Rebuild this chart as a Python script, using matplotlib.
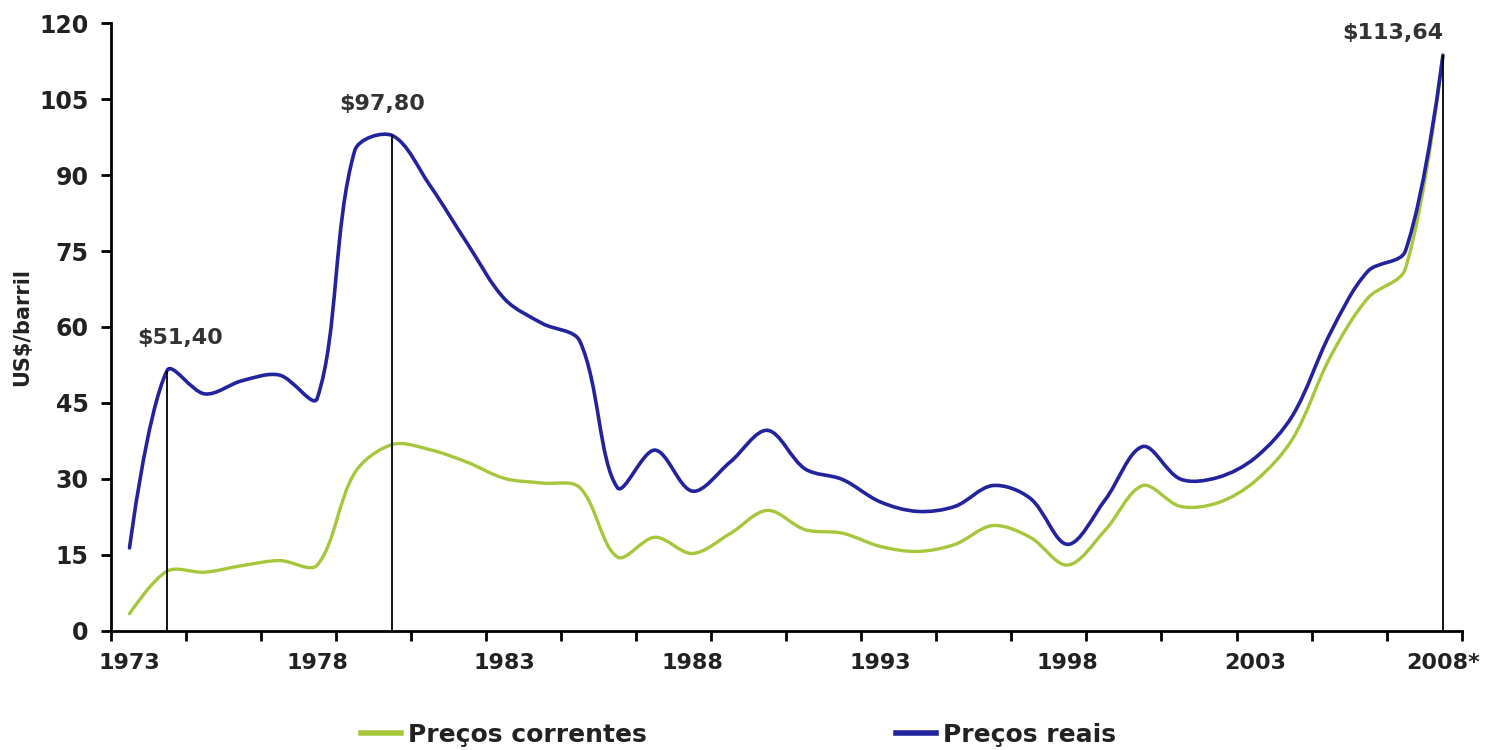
import numpy as np
import matplotlib
matplotlib.use("Agg")
import matplotlib.pyplot as plt
from matplotlib.path import Path
from matplotlib.patches import PathPatch
from matplotlib.lines import Line2D

# Annual oil prices, US$ per barrel
years = list(range(1973, 2009))
precos_reais = [16.4, 51.4, 46.8, 49.4, 50.5, 45.9, 94.8, 97.8, 88.0, 76.5,
                65.5, 60.7, 57.2, 28.3, 35.7, 27.6, 33.3, 39.6, 32.0, 29.9,
                25.5, 23.6, 24.6, 28.7, 26.2, 17.1, 25.9, 36.4, 30.0, 30.3,
                34.2, 42.6, 58.8, 71.0, 75.0, 113.64]
precos_correntes = [3.4, 11.8, 11.6, 12.9, 13.9, 13.0, 31.2, 36.8, 35.8, 33.3,
                    30.1, 29.2, 28.3, 14.6, 18.5, 15.3, 19.2, 23.8, 20.0, 19.3,
                    16.7, 15.7, 17.1, 20.8, 18.5, 13.0, 19.9, 28.7, 24.6, 25.3,
                    29.6, 38.0, 54.1, 65.7, 71.5, 113.64]

# Highlighted peaks: year and value
peak_years = [1974, 1980, 2008]
peak_values = [51.40, 97.80, 113.64]
peak_labels = ["$51,40", "$97,80", "$113,64"]

tick_years = [1973, 1978, 1983, 1988, 1993, 1998, 2003, 2008]
tick_labels = ["1973", "1978", "1983", "1988", "1993", "1998", "2003", "2008*"]

GREEN = "#a6c63c"
BLUE = "#23239e"
TEXT = "#222222"

# rough screen scale (px per year, px per US$) used to weight the smoothing
SX, SY = 37.5, 5.07


def smooth_path(x, y):
    """Bezier path through the points, tangents weighted by segment length."""
    pts = np.column_stack([x, y]).astype(float)
    scr = pts * [SX, SY]
    n = len(pts)
    before = pts.copy()
    after = pts.copy()
    for i in range(1, n - 1):
        d1 = np.hypot(*(scr[i] - scr[i - 1]))
        d2 = np.hypot(*(scr[i + 1] - scr[i]))
        tan = pts[i + 1] - pts[i - 1]
        before[i] = pts[i] - tan * d1 / (d1 + d2) / 3.0
        after[i] = pts[i] + tan * d2 / (d1 + d2) / 3.0
    verts = [pts[0]]
    codes = [Path.MOVETO]
    for i in range(n - 1):
        verts += [after[i], before[i + 1], pts[i + 1]]
        codes += [Path.CURVE4] * 3
    return Path(verts, codes)


fig = plt.figure(figsize=(14.95, 7.5), dpi=100)
ax = fig.add_axes([0.0741, 0.1587, 0.9036, 0.8106])

ax.add_patch(PathPatch(smooth_path(years, precos_correntes), fill=False,
                       edgecolor=GREEN, lw=2.4, capstyle="round", zorder=3))
ax.add_patch(PathPatch(smooth_path(years, precos_reais), fill=False,
                       edgecolor=BLUE, lw=2.6, capstyle="round", zorder=4))

# Drop lines and value labels for the peaks
ax.vlines(peak_years, 0, peak_values, color="black", lw=1.3, zorder=5)
label_pos = [(1974.35, 57.8), (1979.73, 104.1), (2006.67, 118.0)]
for (lx, ly), txt in zip(label_pos, peak_labels):
    ax.text(lx, ly, txt, ha="center", va="center", fontsize=16,
            fontweight="bold", color="#333333")

ax.set_xlim(1972.5, 2008.5)
ax.set_ylim(0, 120)

ax.set_yticks(np.arange(0, 121, 15))
ax.tick_params(axis="y", length=7, width=2, pad=9, labelsize=17,
               labelcolor=TEXT)
for lbl in ax.get_yticklabels():
    lbl.set_fontweight("bold")

# Year labels sit on categories, tick marks every two years
ax.set_xticks(tick_years)
ax.set_xticklabels(tick_labels, fontsize=16, fontweight="bold", color=TEXT)
ax.set_xticks(np.arange(1972.5, 2008.6, 2), minor=True)
ax.tick_params(axis="x", which="major", length=0, pad=16)
ax.tick_params(axis="x", which="minor", length=7, width=2)

for side in ["top", "right"]:
    ax.spines[side].set_visible(False)
for side in ["left", "bottom"]:
    ax.spines[side].set_linewidth(2)

ax.set_ylabel("US$/barril", fontsize=15, fontweight="bold", color=TEXT)
ax.yaxis.set_label_coords(-0.058, 0.5)

handles = [Line2D([], [], color=GREEN, lw=4),
           Line2D([], [], color=BLUE, lw=4)]
fig.legend(handles, ["Preços correntes", "Preços reais"], loc="center",
           bbox_to_anchor=(0.494, 0.02), ncol=2, frameon=False,
           prop={"size": 18, "weight": "bold"}, labelcolor=TEXT,
           handlelength=1.6, handletextpad=0.25, columnspacing=10.0)

fig.savefig("out.png", dpi=100)
